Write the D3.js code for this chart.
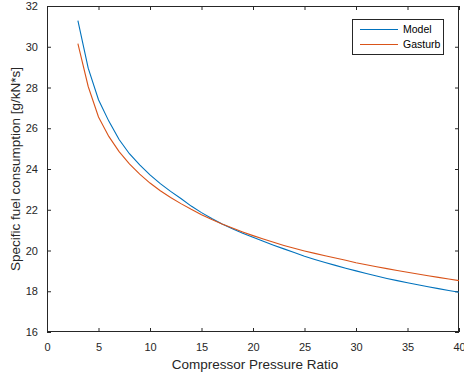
<!DOCTYPE html>
<html lang="en">
<head>
    <meta charset="UTF-8">
    <script src="https://d3js.org/d3.v7.min.js"></script>
    <title>SFC vs Pressure Ratio</title>
    <style>
        body { margin: 0; background: #fff; }
        svg { font-family: "Liberation Sans", Arial, sans-serif; }
        .tick text { fill: #262626; }
    </style>
</head>
<body>
    <div id="graph-div"></div>
    <script>
        // pressure ratio 3..40
        const ratio = [3, 4, 5, 6, 7, 8, 9, 10, 11, 12, 13, 14, 15, 16, 17, 18, 19, 20, 21,
                       22, 23, 24, 25, 26, 27, 28, 29, 30, 31, 32, 33, 34, 35, 36, 37, 38, 39, 40];
        const model = [31.28, 28.95, 27.4, 26.35, 25.45, 24.75, 24.2, 23.71, 23.28, 22.9, 22.55,
                       22.18, 21.86, 21.57, 21.3, 21.07, 20.85, 20.65, 20.45, 20.26, 20.08, 19.9,
                       19.72, 19.56, 19.41, 19.27, 19.13, 19.0, 18.87, 18.75, 18.63, 18.52, 18.42,
                       18.32, 18.22, 18.13, 18.04, 17.95];
        const gasturb = [30.15, 28.05, 26.55, 25.6, 24.85, 24.25, 23.75, 23.31, 22.93, 22.6, 22.3,
                         22.02, 21.76, 21.52, 21.3, 21.1, 20.91, 20.73, 20.56, 20.4, 20.25, 20.11,
                         19.98, 19.86, 19.74, 19.63, 19.52, 19.4, 19.3, 19.2, 19.11, 19.02, 18.93,
                         18.85, 18.76, 18.68, 18.6, 18.52];
        const xTicks = [0, 5, 10, 15, 20, 25, 30, 35, 40];
        const yTicks = [16, 18, 20, 22, 24, 26, 28, 30, 32];
        const seriesNames = ["Model", "Gasturb"];
        const colors = ["#0072BD", "#D95319"];

        const w = 464, h = 376;
        const padL = 47, padR = 459, padT = 6, padB = 332;
        const axisColor = "#262626";

        const xScale = d3.scaleLinear().domain([0, 40]).range([padL, padR]);
        const yScale = d3.scaleLinear().domain([16, 32]).range([padB, padT]);

        const svg = d3.select("#graph-div")
                      .append("svg")
                      .attr("width", w)
                      .attr("height", h);

        // axes (ticks point inward, box on)
        const styleAxis = g => {
            g.selectAll(".domain").remove();
            g.selectAll(".tick line").attr("stroke", axisColor);
            g.selectAll(".tick text").style("font-size", "11px");
        };

        svg.append("g")
           .attr("transform", "translate(0," + padB + ")")
           .call(d3.axisBottom(xScale).tickValues(xTicks).tickSize(-4).tickPadding(11))
           .call(styleAxis);
        svg.append("g")
           .attr("transform", "translate(0," + padT + ")")
           .call(d3.axisTop(xScale).tickValues(xTicks).tickSize(-4).tickFormat(""))
           .call(styleAxis);
        svg.append("g")
           .attr("transform", "translate(" + padL + ",0)")
           .call(d3.axisLeft(yScale).tickValues(yTicks).tickSize(-4).tickPadding(9))
           .call(styleAxis);
        svg.append("g")
           .attr("transform", "translate(" + padR + ",0)")
           .call(d3.axisRight(yScale).tickValues(yTicks).tickSize(-4).tickFormat(""))
           .call(styleAxis);

        svg.append("rect")
           .attr("x", padL + 0.5).attr("y", padT + 0.5)
           .attr("width", padR - padL - 1).attr("height", padB - padT - 1)
           .attr("fill", "none").attr("stroke", axisColor).attr("stroke-width", 1);

        // lines
        const line = d3.line()
                       .x((d, i) => xScale(ratio[i]))
                       .y(d => yScale(d));
        [model, gasturb].forEach((s, k) => {
            svg.append("path")
               .datum(s)
               .attr("fill", "none")
               .attr("stroke", colors[k])
               .attr("stroke-width", 1.1)
               .attr("d", line);
        });

        // axis labels
        svg.append("text")
           .text("Compressor Pressure Ratio")
           .attr("x", (padL + padR) / 2 + 2)
           .attr("y", 369)
           .attr("text-anchor", "middle")
           .style("font-size", "13.5px")
           .attr("fill", axisColor);
        svg.append("text")
           .text("Specific fuel consumption [g/kN*s]")
           .attr("transform", "translate(20," + ((padT + padB) / 2) + ") rotate(-90)")
           .attr("text-anchor", "middle")
           .style("font-size", "13.5px")
           .attr("fill", axisColor);

        // legend
        const lg = svg.append("g").attr("transform", "translate(352,19)");
        lg.append("rect")
          .attr("x", 0.5).attr("y", 0.5)
          .attr("width", 91).attr("height", 35)
          .attr("fill", "#fff").attr("stroke", axisColor);
        seriesNames.forEach((n, k) => {
            const yy = 10.5 + k * 15;
            lg.append("line")
              .attr("x1", 8).attr("x2", 46)
              .attr("y1", yy).attr("y2", yy)
              .attr("stroke", colors[k]).attr("stroke-width", 1);
            lg.append("text")
              .text(n)
              .attr("x", 51).attr("y", yy + 3.7)
              .style("font-size", "10.5px")
              .attr("fill", "#000");
        });
    </script>
</body>
</html>
